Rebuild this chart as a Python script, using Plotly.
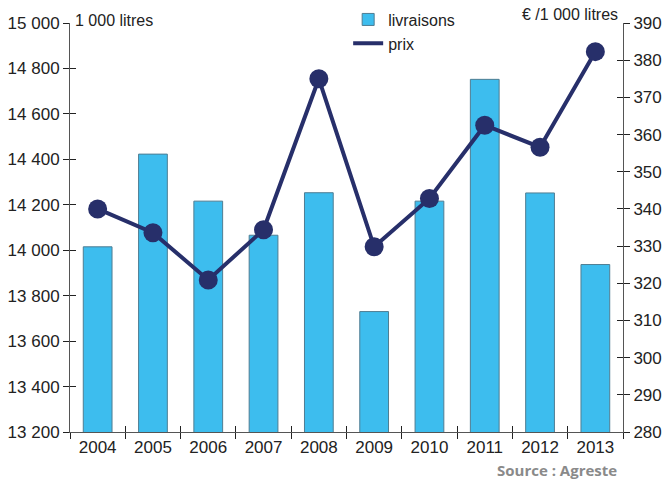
import plotly.graph_objects as go

years = ["2004", "2005", "2006", "2007", "2008", "2009", "2010", "2011", "2012", "2013"]
livraisons = [14015, 14423, 14216, 14066, 14253, 13730, 14216, 14752, 14252, 13937]
prix = [340.0, 333.6, 320.9, 334.4, 375.0, 329.8, 342.8, 362.5, 356.6, 382.3]

left_ticks = list(range(13200, 15001, 200))
left_labels = [f"{v:,}".replace(",", " ") for v in left_ticks]
right_ticks = list(range(280, 391, 10))

FONT = "Liberation Sans, Arial, sans-serif"
AXIS_COL = "#555555"

fig = go.Figure()
fig.add_trace(go.Bar(
    x=years, y=livraisons, name="livraisons", width=0.52,
    marker=dict(color="#3dbdee", line=dict(color="#4f7d92", width=1)),
    yaxis="y",
))
fig.add_trace(go.Scatter(
    x=years, y=prix, name="prix", mode="lines",
    line=dict(color="#272f6a", width=4),
    yaxis="y2",
))
fig.add_trace(go.Scatter(
    x=years, y=prix, name="prix", mode="markers", showlegend=False,
    marker=dict(color="#272f6a", size=19),
    yaxis="y2",
))

fig.update_layout(
    width=667, height=480,
    margin=dict(l=70, r=44, t=23, b=48, autoexpand=False),
    paper_bgcolor="white", plot_bgcolor="white",
    font=dict(family=FONT, color="#222222", size=17),
    showlegend=True,
    legend=dict(x=0.503, y=1.05, xanchor="left", yanchor="top",
                bgcolor="rgba(0,0,0,0)", font=dict(size=16, family=FONT),
                tracegroupgap=0, itemwidth=30),
    bargap=0.48,
    xaxis=dict(
        type="category", range=[-0.5, 9.5], automargin=False,
        showline=True, linecolor=AXIS_COL, linewidth=1,
        ticks="outside", tickson="boundaries", ticklen=6, tickcolor="#222",
        showgrid=False, tickfont=dict(size=17, family=FONT),
    ),
    xaxis2=dict(
        overlaying="x", anchor="y", type="linear", range=[-0.5, 9.5], automargin=False,
        tickvals=[i + 0.5 for i in range(9)], ticks="inside", ticklen=6,
        tickcolor="#222", showticklabels=False, showline=False, showgrid=False,
        zeroline=False,
    ),
    yaxis=dict(
        range=[13200, 15000], tickvals=left_ticks, ticktext=left_labels, automargin=False,
        showline=True, linecolor=AXIS_COL, linewidth=1,
        ticks="outside", ticklen=6, tickcolor="#222",
        showgrid=False, zeroline=False, tickfont=dict(size=17, family=FONT),
    ),
    yaxis2=dict(
        range=[280, 390], tickvals=right_ticks, overlaying="y", side="right", automargin=False,
        showline=True, linecolor=AXIS_COL, linewidth=1,
        ticks="outside", ticklen=6, tickcolor="#222",
        showgrid=False, zeroline=False, tickfont=dict(size=17, family=FONT),
    ),
    yaxis3=dict(
        range=[13200, 15000], tickvals=left_ticks, overlaying="y", side="left",
        anchor="x", ticks="inside", ticklen=6, tickcolor="#222", automargin=False,
        showticklabels=False, showline=False, showgrid=False, zeroline=False,
    ),
    yaxis4=dict(
        range=[280, 390], tickvals=right_ticks, overlaying="y", side="right",
        anchor="x", ticks="inside", ticklen=6, tickcolor="#222", automargin=False,
        showticklabels=False, showline=False, showgrid=False, zeroline=False,
    ),
    annotations=[
        dict(text="1 000 litres", xref="paper", yref="paper", x=0.005, y=1.007,
             xanchor="left", yanchor="middle", showarrow=False,
             font=dict(size=16, family=FONT, color="#222")),
        dict(text="€ /1 000 litres", xref="paper", yref="paper", x=0.994, y=1.02,
             xanchor="right", yanchor="middle", showarrow=False,
             font=dict(size=16, family=FONT, color="#222")),
        dict(text="<b>Source : Agreste</b>", xref="paper", yref="paper", x=0.992, y=-0.094,
             xanchor="right", yanchor="middle", showarrow=False,
             font=dict(size=15, family="Open Sans, sans-serif", color="#8a8a8a")),
    ],
)

# invisible helper traces so the crossing-tick overlay axes render
fig.add_trace(go.Scatter(x=[0], y=[13200], xaxis="x2", yaxis="y3", showlegend=False,
                         mode="markers", marker=dict(opacity=0), hoverinfo="skip"))
fig.add_trace(go.Scatter(x=[0], y=[280], xaxis="x2", yaxis="y4", showlegend=False,
                         mode="markers", marker=dict(opacity=0), hoverinfo="skip"))

fig.write_html(
    "out.html",
    config={"displayModeBar": False},
    post_script="document.body.style.margin='0';document.body.style.overflow='hidden';",
)
